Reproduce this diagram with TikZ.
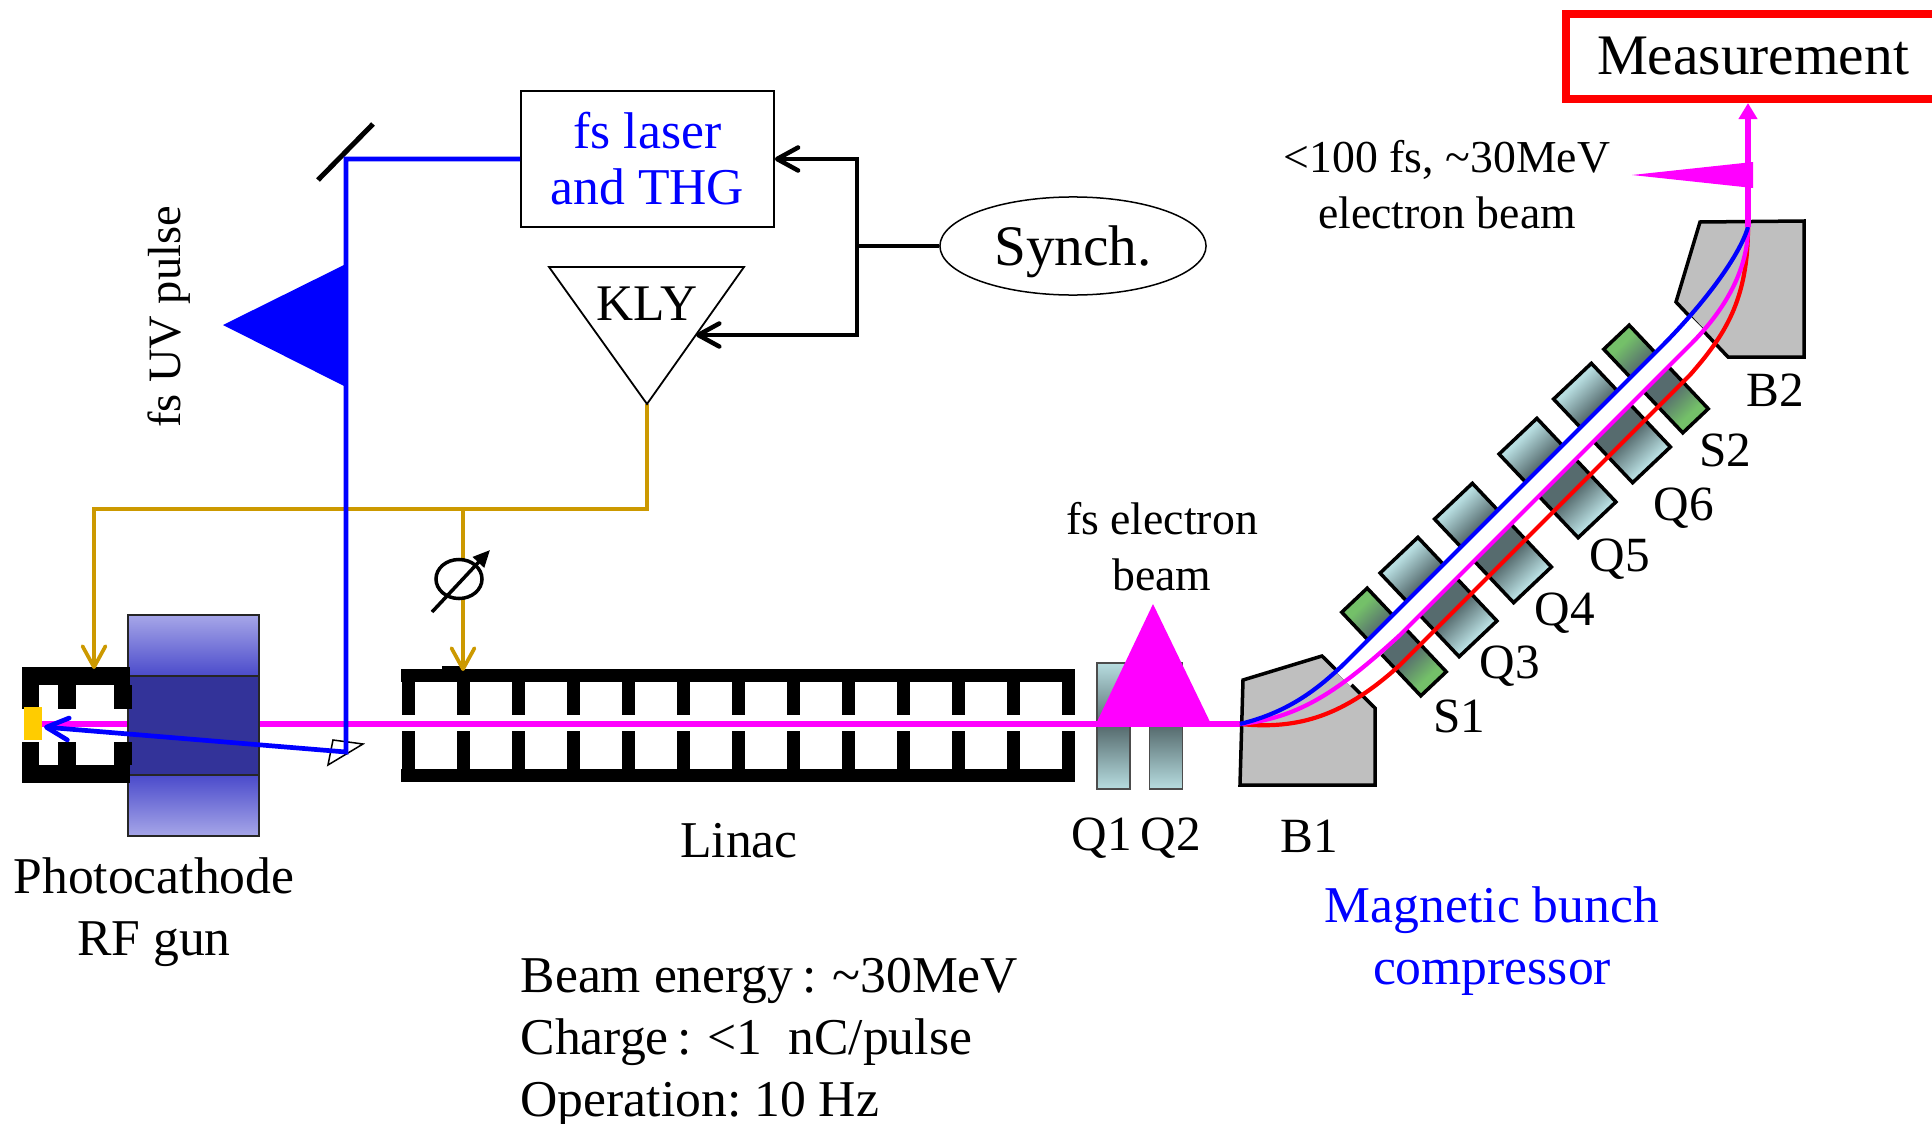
\documentclass[tikz,border=0pt]{standalone}
\usepackage{fontspec}
\setmainfont{Liberation Serif}
\frenchspacing
\usetikzlibrary{arrows.meta,shapes.geometric}
\definecolor{goldline}{HTML}{CC9900}
\definecolor{quadlight}{HTML}{B7DDE0}
\definecolor{quaddark}{HTML}{566B6E}
\definecolor{sextlight}{HTML}{74C069}
\definecolor{bendgrey}{HTML}{BFBFBF}
\definecolor{solhi}{HTML}{A6A6E8}
\definecolor{solmid}{HTML}{4B4BCB}
\definecolor{soldark}{HTML}{333399}
\definecolor{cathode}{HTML}{FFCC00}
\definecolor{beammag}{RGB}{255,0,255}
\pgfdeclarehorizontalshading{quadshade}{100bp}{color(0bp)=(quadlight); color(27bp)=(quadlight); color(41bp)=(quaddark); color(59bp)=(quaddark); color(73bp)=(quadlight); color(100bp)=(quadlight)}
\pgfdeclarehorizontalshading{sextshade}{100bp}{color(0bp)=(sextlight); color(27bp)=(sextlight); color(41bp)=(quaddark); color(59bp)=(quaddark); color(73bp)=(sextlight); color(100bp)=(sextlight)}
\tikzset{
	biglbl/.style={align=center, inner sep=0pt, font=\fontsize{14.68pt}{17.6pt}\selectfont},
	midlbl/.style={align=center, inner sep=0pt, font=\fontsize{13pt}{15.9pt}\selectfont},
	maglbl/.style={align=center, inner sep=0pt, font=\fontsize{14pt}{15.9pt}\selectfont},
	qvert/.style={shape=rectangle, draw=black!70, line width=0.015cm, minimum width=0.33cm, minimum height=1.26cm, inner sep=0pt, top color=quadlight, bottom color=quadlight, middle color=quaddark},
	qtilt/.style={shape=rectangle, draw, line width=0.035cm, rotate=-46.6, minimum width=1.15cm, minimum height=0.52cm, inner sep=0pt, shade, shading=quadshade, shading angle=-46.6},
	stilt/.style={shape=rectangle, draw, line width=0.035cm, rotate=-46.6, minimum width=1.15cm, minimum height=0.35cm, inner sep=0pt, shade, shading=sextshade, shading angle=-46.6},
	solcoil/.style={shape=rectangle, draw=black!85, line width=0.015cm, minimum width=1.31cm, inner sep=0pt},
	bendmag/.style={draw, fill=bendgrey, line width=0.035cm},
	rfline/.style={draw=goldline, line width=0.037cm},
	rftip/.style={-{Straight Barb[length=0.21cm, width=0.23cm, round]}},
	syncline/.style={draw, line width=0.045cm},
	uvline/.style={draw=blue, line width=0.047cm},
	ebeam/.style={draw=beammag, line width=0.06cm},
	orbit/.style={line width=0.042cm}
}
\begin{document}
\begin{tikzpicture}[x=0.01cm, y=-0.01cm]
	\useasboundingbox (0,0) rectangle (1932,1124);
	\clip (0,0) rectangle (1932,1124);

	\node (q1)[qvert] at (1113.5,726){};
	\node (q2)[qvert] at (1166,726){};

	\coordinate (guncath) at (42,724);
	\coordinate (b1in) at (1240,724);
	\draw[ebeam] (guncath) -- (b1in);

	\node (soltop)[solcoil, minimum height=0.61cm, top color=solhi, bottom color=solmid] at (193.5,645.5){};
	\node (solmid)[solcoil, minimum height=0.99cm, fill=soldark] at (193.5,725.5){};
	\node (solbot)[solcoil, minimum height=0.61cm, top color=solmid, bottom color=solhi] at (193.5,805.5){};

	\fill (22,667) rectangle (130,685);
	\fill (22,765) rectangle (130,783);
	\fill (22,667) rectangle (39,709);
	\fill (22,742) rectangle (39,783);
	\fill (58,685) rectangle (76,709);
	\fill (114,685) rectangle (132,709);
	\fill (58,742) rectangle (76,765);
	\fill (114,742) rectangle (132,765);
	\fill[cathode] (24,707) rectangle (42,740);

	\fill (401,669) rectangle (1075,682);
	\fill (401,769) rectangle (1075,782);
	\fill (442,666) rectangle (463,670);
	\foreach \k in {0,...,12}{
		\fill ({402+55*\k},682) rectangle ({415+55*\k},715);
		\fill ({402+55*\k},731) rectangle ({415+55*\k},769);
	}

	\coordinate (klytip) at (647,404);
	\coordinate (klyin) at (696,335);
	\coordinate (rfsplit) at (463,509);
	\coordinate (gunin) at (94,669);
	\coordinate (linacin) at (463,671);
	\draw[rfline, rftip] (klytip) -- (647,509) -- (94,509) -- (gunin);
	\draw[rfline, rftip] (rfsplit) -- (linacin);

	\node (phase)[shape=ellipse, draw, fill=white, line width=0.035cm, minimum width=0.46cm, minimum height=0.39cm, inner sep=0pt] at (459,579){};
	\draw[line width=0.035cm, -{Triangle[length=0.17cm, width=0.15cm]}] (432,612) -- (490,550);

	\node (laser)[shape=rectangle, draw, line width=0.015cm, minimum width=2.53cm, minimum height=1.36cm, inner sep=0pt, text=blue, biglbl, font=\fontsize{14.68pt}{15.9pt}\selectfont] at (647.5,159){
		fs laser \\ and THG
	};
	\node (synch)[shape=ellipse, draw, line width=0.015cm, minimum width=2.66cm, minimum height=0.98cm, inner sep=0pt, text height=0.5cm, text depth=0.12cm, font=\fontsize{16.3pt}{18pt}\selectfont] at (1073,246){
		Synch.
	};
	\draw[line width=0.018cm] (549,267) -- (744,267) -- (klytip) -- cycle;
	\node (kly)[biglbl, font=\fontsize{14.6pt}{16pt}\selectfont] at (647,304){KLY};

	\coordinate (syncbus) at (857,246);
	\draw[syncline] (synch.west) -- (syncbus);
	\draw[syncline, rftip] (syncbus) -- (857,159) -- (laser.east);
	\draw[syncline, rftip] (syncbus) -- (857,335) -- (klyin);

	\coordinate (mirror) at (346,159);
	\coordinate (prism) at (346,752);
	\coordinate (cathspot) at (44,727);
	\draw[line width=0.05cm] (318,180) -- (373,124);
	\draw[line width=0.015cm] (333,740) -- (363,744) -- (328,765) -- cycle;
	\fill[blue] (346,264) -- (346,387) -- (223,325) -- cycle;
	\draw[uvline, -{Straight Barb[length=0.22cm, width=0.22cm, round]}] (laser.west) -- (mirror) -- (prism) -- (cathspot);

	\fill[beammag] (1153,604) -- (1212,726) -- (1095,726) -- cycle;
	\fill[beammag] (1632,175) -- (1753,162) -- (1753,188) -- cycle;

	\draw[bendmag] (1240,785) -- (1243,680) -- (1322,656) -- (1375,708) -- (1375,785) -- cycle;
	\draw[bendmag] (1700,222) -- (1804,221) -- (1804,357) -- (1728,357) -- (1676,302) -- cycle;

	\node (s1)[stilt] at (1394,642){};
	\node (q3)[qtilt] at (1438.5,597){};
	\node (q4)[qtilt] at (1493,543){};
	\node (q5)[qtilt] at (1557.5,478){};
	\node (q6)[qtilt] at (1612,423){};
	\node (s2)[stilt] at (1656,379){};

	\draw[white, line width=0.2cm] (1343,679) -- (1698,324);

	\node (meas)[shape=rectangle, draw=red, line width=0.08cm, anchor=west, text width=3.6cm, minimum height=0.85cm, inner xsep=0.31cm, inner ysep=0pt, align=left, font=\fontsize{16.3pt}{19pt}\selectfont] at (1562,56.5){
		Measurement
	};

	\coordinate (b2out) at (1748,227);
	\draw[red, orbit] (b1in) .. controls (1300,730) and (1345,715) .. (1400,665) -- (1690,375) .. controls (1725,335) and (1748,300) .. (b2out);
	\draw[beammag, orbit] (b1in) .. controls (1300,718) and (1340,690) .. (1400,635) -- (1690,345) .. controls (1725,310) and (1748,270) .. (b2out);
	\draw[blue, orbit] (b1in) .. controls (1290,712) and (1320,687) .. (1345,663) -- (1660,348) .. controls (1705,303) and (1740,255) .. (b2out);
	\draw[ebeam, line width=0.065cm, -{Triangle[length=0.16cm, width=0.18cm]}] (b2out) -- (b2out |- meas.south);

	\node (uvlbl)[midlbl, rotate=90, font=\fontsize{13.2pt}{15.9pt}\selectfont] at (169,317){fs UV pulse};
	\node (gunlbl)[biglbl] at (154,912){Photocathode \\ RF gun};
	\node (linaclbl)[biglbl] at (739,841){Linac};
	\node (speclbl)[biglbl, align=left, anchor=west] at (520,1043){
		Beam energy\,:\hspace{0.16cm}\textasciitilde30MeV \\ Charge\,:\hspace{0.16cm}<1\ \ nC/pulse \\ Operation: 10 Hz
	};
	\node (fselbl)[midlbl] at (1162,547){fs electron \\ beam};
	\node (q1lbl)[maglbl] at (1102,838){Q1};
	\node (q2lbl)[maglbl] at (1171,838){Q2};
	\node (b1lbl)[maglbl] at (1309,836){B1};
	\node (bclbl)[biglbl, text=blue] at (1492,941){Magnetic bunch \\ compressor};
	\node (s1lbl)[maglbl] at (1459,716){S1};
	\node (q3lbl)[maglbl] at (1510,666){Q3};
	\node (q4lbl)[maglbl] at (1565,613){Q4};
	\node (q5lbl)[maglbl] at (1620,559){Q5};
	\node (q6lbl)[maglbl] at (1684,508){Q6};
	\node (s2lbl)[maglbl] at (1725,450){S2};
	\node (b2lbl)[maglbl] at (1775,390){B2};
	\node (ebeamlbl)[midlbl] at (1447,185){<100 fs, \textasciitilde30MeV \\ electron beam};
\end{tikzpicture}
\end{document}
